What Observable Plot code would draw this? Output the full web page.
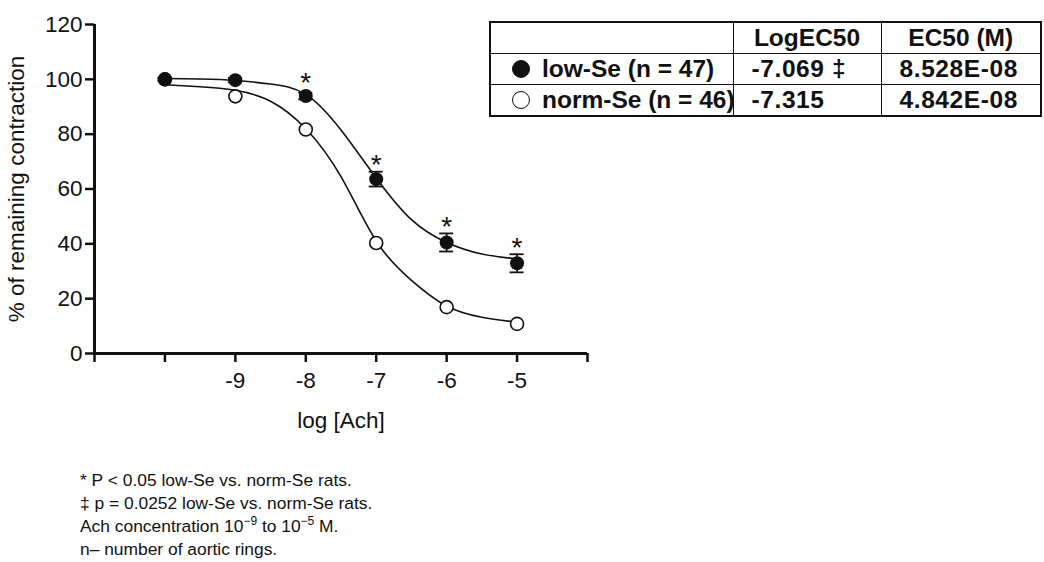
<!DOCTYPE html>
<html><head><meta charset="utf-8">
<script src="https://cdn.jsdelivr.net/npm/d3@7"></script>
<script src="https://cdn.jsdelivr.net/npm/@observablehq/plot@0.6"></script>
<style>
body{margin:0;background:#fff;font-family:"Liberation Sans",Arial,sans-serif;color:#111;}
#wrap{position:relative;width:1044px;height:562px;overflow:hidden;background:#fff;}
#chart{position:absolute;left:0;top:0;}
#legend{position:absolute;left:489px;top:21px;border-collapse:collapse;table-layout:fixed;width:551px;font-weight:bold;font-size:24.5px;border:2px solid #111;}
#legend td{border:1.5px solid #111;height:30px;padding:0;white-space:nowrap;overflow:visible;line-height:28px;}
#legend tr.h td{text-align:center;}
#legend td.v{padding-left:18px;letter-spacing:0.6px;}
.mk{display:inline-block;width:18px;height:18px;border-radius:50%;border:1.5px solid #111;box-sizing:border-box;margin:0 12px 0 21px;vertical-align:-1px;}
.mk.f{background:#111;}
#caption{position:absolute;left:80px;top:469px;font-size:17.4px;line-height:23px;color:#111;white-space:nowrap;}
#caption sup{font-size:12px;line-height:0;vertical-align:7px;}
</style>
</head><body>
<div id="wrap">
  <div id="chart"></div>
  <table id="legend"><colgroup><col style="width:243px"><col style="width:148px"><col style="width:160px"></colgroup></table>
  <div id="caption"></div>
</div>
<script>
// ---- data ----
const doses = [-10, -9, -8, -7, -6, -5];
const lowSe = [100, 99.7, 93.9, 63.6, 40.5, 32.9];
const lowSeSem = [0.5, 0.8, 1.2, 2.7, 3.3, 3.3];
const normSe = [100, 93.8, 81.7, 40.3, 16.9, 10.8];
const normSeSem = [0.5, 1.0, 1.0, 1.2, 1.0, 0.8];
const significant = [false, false, true, true, true, true];

// fitted curves
const fitX = [-10, -9.5, -9, -8.5, -8, -7.5, -7, -6.5, -6, -5.5, -5];
const lowSeFit = [100.3, 100.1, 99.6, 98.3, 94.5, 81.5, 64, 48.8, 40.5, 36.3, 34.5];
const normSeFit = [98, 97.3, 96, 92, 82, 64.5, 41, 26.7, 17.3, 13.2, 11.4];

const xTicks = [-11, -10, -9, -8, -7, -6, -5, -4];
const xTickLabels = ["", "", "-9", "-8", "-7", "-6", "-5", ""];
const yTicks = [0, 20, 40, 60, 80, 100, 120];

const seriesNames = ["low-Se (n = 47)", "norm-Se (n = 46)"];
const logEC50 = ["-7.069 \u2021", "-7.315"];
const ec50 = ["8.528E-08", "4.842E-08"];
const tableHeaders = ["", "LogEC50", "EC50 (M)"];

const captionLines = [
  "* P &lt; 0.05 low-Se vs. norm-Se rats.",
  "\u2021 p = 0.0252 low-Se vs. norm-Se rats.",
  "Ach concentration 10<sup>\u22129</sup> to 10<sup>\u22125</sup> M.",
  "n\u2013 number of aortic rings."
];

// ---- build tables ----
const lowRows = doses.map((x, i) => ({x, y: lowSe[i], sem: lowSeSem[i], sig: significant[i]}));
const normRows = doses.map((x, i) => ({x, y: normSe[i], sem: normSeSem[i]}));
const fitRows = fitX.map((x, i) => ({x, low: lowSeFit[i], norm: normSeFit[i]}));
const tickLabel = new Map(xTicks.map((t, i) => [t, xTickLabels[i]]));
const ink = "#111";
const fs = 22.5;

const chart = Plot.plot({
  width: 600,
  height: 440,
  marginLeft: 94,
  marginRight: 13,
  marginTop: 24,
  marginBottom: 87,
  x: {domain: [-11, -4]},
  y: {domain: [0, 120]},
  style: {fontFamily: '"Liberation Sans", Arial, sans-serif', fontSize: fs + "px", color: ink, background: "transparent"},
  marks: [
    Plot.axisY({ticks: yTicks, tickSize: 9, tickPadding: 3, strokeWidth: 2.5, fontSize: fs,
      label: "% of remaining contraction", labelAnchor: "center", labelArrow: "none", labelOffset: 86}),
    Plot.axisX({ticks: xTicks, tickFormat: d => tickLabel.get(d), tickSize: 9, tickPadding: 10, strokeWidth: 2.5, fontSize: fs,
      label: "log [Ach]", labelAnchor: "center", labelArrow: "none", labelOffset: 74}),
    Plot.ruleY([0], {stroke: ink, strokeWidth: 3}),
    Plot.ruleX([-11], {stroke: ink, strokeWidth: 3}),
    Plot.line(fitRows, {x: "x", y: "low", curve: "natural", stroke: ink, strokeWidth: 1.6}),
    Plot.line(fitRows, {x: "x", y: "norm", curve: "natural", stroke: ink, strokeWidth: 1.6}),
    // norm-Se error bars + points
    Plot.ruleX(normRows, {x: "x", y1: d => d.y - d.sem, y2: d => d.y + d.sem, stroke: ink, strokeWidth: 1.6}),
    Plot.dot(normRows, {x: "x", y: "y", r: 6.5, fill: "white", stroke: ink, strokeWidth: 1.6}),
    // low-Se error bars + points
    Plot.ruleX(lowRows, {x: "x", y1: d => d.y - d.sem, y2: d => d.y + d.sem, stroke: ink, strokeWidth: 1.8}),
    Plot.ruleY(lowRows, {x1: "x", x2: "x", y: d => d.y + d.sem, insetLeft: -7, insetRight: -7, stroke: ink, strokeWidth: 1.8}),
    Plot.ruleY(lowRows, {x1: "x", x2: "x", y: d => d.y - d.sem, insetLeft: -7, insetRight: -7, stroke: ink, strokeWidth: 1.8}),
    Plot.dot(lowRows, {x: "x", y: "y", r: 7, fill: ink, stroke: "none"}),
    Plot.text(lowRows.filter(d => d.sig), {x: "x", y: d => d.y + Math.max(d.sem, 2.4), text: () => "*", fontSize: 28, dy: -6.5, fill: ink})
  ]
});
document.getElementById("chart").appendChild(chart);

// legend table
const legend = document.getElementById("legend");
const head = document.createElement("tr");
head.className = "h";
tableHeaders.forEach(h => {
  const td = document.createElement("td");
  td.textContent = h;
  head.appendChild(td);
});
legend.appendChild(head);
seriesNames.forEach((name, i) => {
  const tr = document.createElement("tr");
  const a = document.createElement("td");
  a.innerHTML = `<span class="mk ${i === 0 ? "f" : ""}"></span>`;
  a.appendChild(document.createTextNode(name));
  const b = document.createElement("td"); b.className = "v"; b.textContent = logEC50[i];
  const c = document.createElement("td"); c.className = "v"; c.textContent = ec50[i];
  tr.append(a, b, c);
  legend.appendChild(tr);
});

document.getElementById("caption").innerHTML = captionLines.map(l => `<div>${l}</div>`).join("");
</script>
</body></html>
